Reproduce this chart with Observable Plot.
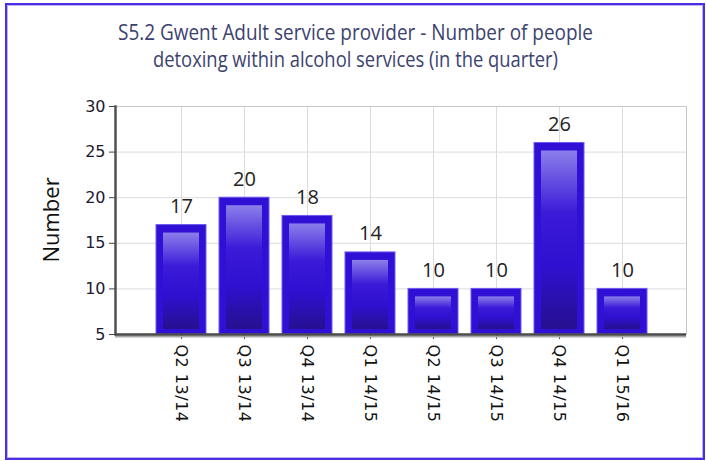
<!DOCTYPE html>
<html>
<head>
<meta charset="utf-8">
<script src="https://cdn.jsdelivr.net/npm/d3@7"></script>
<script src="https://cdn.jsdelivr.net/npm/@observablehq/plot@0.6"></script>
<style>
  html, body { margin: 0; padding: 0; background: #fff; }
  #wrap { position: relative; width: 706px; height: 461px; overflow: hidden; background: #fff; }
  #border { position: absolute; left: 5px; top: 3px; width: 696px; height: 453px;
            border: 2px solid #4a2fe2; box-shadow: inset 0 0 0 1px #bdb3f2; }
  #title { position: absolute; left: 0; top: 0; }
  #chart { position: absolute; left: 0; top: 0; }
</style>
</head>
<body>
<div id="wrap">
  <div id="border"></div>
  <div id="chart"></div>
  <svg id="title" width="706" height="80"></svg>
</div>
<script>
const titleLines = ["S5.2 Gwent Adult service provider - Number of people",
                    "detoxing within alcohol services (in the quarter)"];
const quarters = ["Q2 13/14","Q3 13/14","Q4 13/14","Q1 14/15","Q2 14/15","Q3 14/15","Q4 14/15","Q1 15/16"];
const values = [17, 20, 18, 14, 10, 10, 26, 10];
const yTicks = [5, 10, 15, 20, 25, 30];
const yLabel = "Number";

const data = quarters.map((q, i) => ({quarter: q, value: values[i]}));
const font = "'Open Sans', 'DejaVu Sans', sans-serif";
const tickFont = "'DejaVu Sans', sans-serif";

const plot = Plot.plot({
  width: 706,
  height: 461,
  marginTop: 106,
  marginBottom: 127,
  marginLeft: 115,
  marginRight: 20,
  style: {fontFamily: font, background: "transparent", color: "#222", overflow: "visible"},
  x: {domain: quarters, paddingInner: 0.2, paddingOuter: 0.6, align: 0.52},
  y: {domain: [5, 30]},
  marks: [
    Plot.gridY(yTicks, {stroke: "#dcdcdc", strokeOpacity: 1}),
    Plot.gridX(quarters, {stroke: "#dcdcdc", strokeOpacity: 1}),
    Plot.frame({stroke: "#c8c8c8"}),
    Plot.barY(data, {x: "quarter", y1: 5, y2: "value", fill: "#2f10d4", stroke: "#6d5cf0", strokeWidth: 1}),
    Plot.barY(data, {x: "quarter", y1: 5, y2: "value", fill: "url(#barGrad)",
                     insetLeft: 7, insetRight: 7, insetTop: 8, insetBottom: 5}),
    Plot.text(data, {x: "quarter", y: "value", text: d => String(d.value),
                     lineAnchor: "bottom", dy: -12, fontSize: 20, fill: "#222"}),
    Plot.axisY(yTicks, {tickSize: 6, tickPadding: 4, fontSize: 16, fontFamily: tickFont,
                        label: null, stroke: "#444", fill: "#1a1a30"}),
    Plot.axisX({tickRotate: 90, tickSize: 5, tickPadding: 5, fontSize: 16, fontFamily: tickFont,
                label: null, stroke: "#444", fill: "#111"}),
    Plot.frame({anchor: "left", stroke: "#505050", strokeWidth: 2.5}),
    Plot.ruleY([5], {stroke: "#a8a8a8", strokeWidth: 2, dy: 2}),
    Plot.ruleY([5], {stroke: "#4a4a4a", strokeWidth: 2.5})
  ]
});
document.getElementById("chart").appendChild(plot);

const svg = d3.select(plot);
// slightly wider tick-label spacing like the reference
svg.selectAll("[aria-label='x-axis tick label'] text").attr("letter-spacing", "0.5");

// gradient for bar highlight
const defs = svg.insert("defs", ":first-child");
const g = defs.append("linearGradient").attr("id", "barGrad")
  .attr("x1", 0).attr("y1", 0).attr("x2", 0).attr("y2", 1);
g.append("stop").attr("offset", "0%").attr("stop-color", "#8b7fea");
g.append("stop").attr("offset", "35%").attr("stop-color", "#3b1ad8");
g.append("stop").attr("offset", "65%").attr("stop-color", "#2f10d0");
g.append("stop").attr("offset", "100%").attr("stop-color", "#26108f");

// y axis label
svg.append("text")
  .attr("transform", "translate(53,220) rotate(-90)")
  .attr("text-anchor", "middle").attr("dominant-baseline", "middle")
  .attr("font-family", font).attr("font-size", 22).attr("fill", "#111")
  .text(yLabel);

// title
const t = d3.select("#title");
const widths = [475, 405];
const baselines = [40, 67];
titleLines.forEach((line, i) => {
  t.append("text")
    .attr("x", 355.5).attr("y", baselines[i])
    .attr("text-anchor", "middle")
    .attr("font-family", font).attr("font-size", 21).attr("fill", "#3b4270")
    .attr("textLength", widths[i]).attr("lengthAdjust", "spacingAndGlyphs")
    .text(line);
});
</script>
</body>
</html>
